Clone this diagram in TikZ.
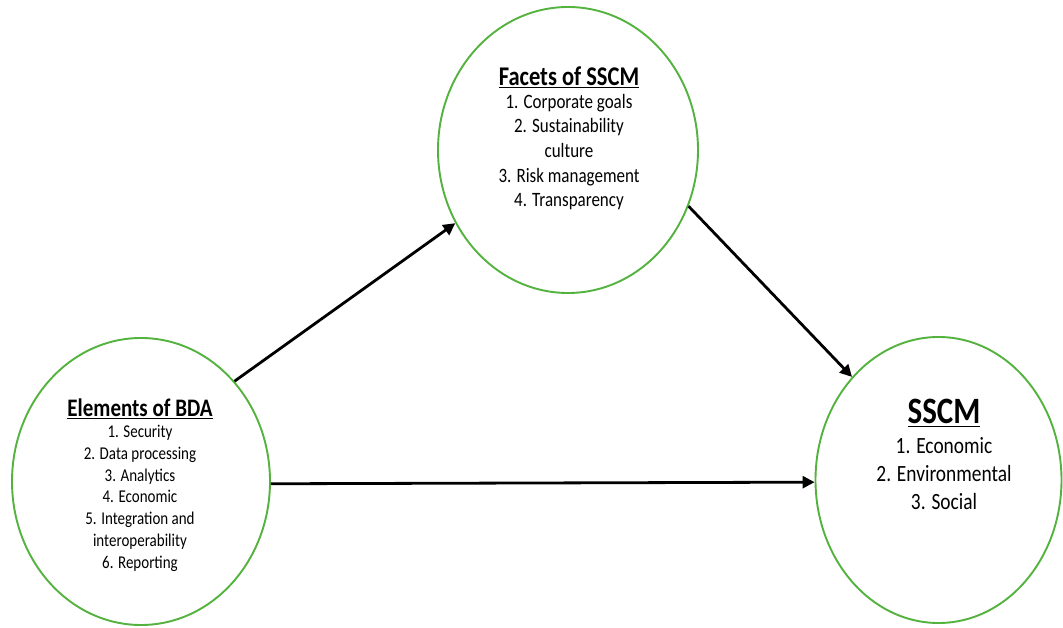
\documentclass[tikz,border=0pt]{standalone}
\usepackage{fontspec}
\usepackage{graphicx}
\setmainfont{Carlito}
\usetikzlibrary{shapes.geometric,arrows.meta}
\definecolor{ringgreen}{RGB}{84,178,62}
\tikzset{
  ring/.style={draw=ringgreen, line width=1.9pt, ellipse, inner sep=0pt, fill=white},
  conn/.style={line width=2.8pt, -{Triangle[length=12pt,width=12pt]}},
  lbl/.style={inner sep=0pt, align=center}
}
\newcommand{\vstretch}[1]{\scalebox{1}[1.2]{#1}}
\begin{document}
\begin{tikzpicture}[x=1pt,y=1pt]
\useasboundingbox[fill=white] (0,0) rectangle (1063,627);
% ellipses
\node[ring, minimum width=258pt, minimum height=287pt] (bda) at (141,145.5) {};
\node[ring, minimum width=260pt, minimum height=286pt] (fac) at (568,477) {};
\node[ring, minimum width=246pt, minimum height=286pt] (sscm) at (938.5,147) {};
% texts
\node[lbl] (bdat) at (140,218) {\vstretch{\fontsize{21}{25}\selectfont\underline{\textbf{Elements of BDA}}}};
\node[lbl] (bdal) at (140,128.5) {\vstretch{\fontsize{15}{18.1}\selectfont\begin{tabular}{@{}c@{}}1. Security\\ 2. Data processing\\ 3. Analytics\\ 4. Economic\\ 5. Integration and\\ interoperability\\ 6. Reporting\end{tabular}}};
\node[lbl] (fact) at (569,550) {\vstretch{\fontsize{22.5}{27}\selectfont\underline{\textbf{Facets of SSCM}}}};
\node[lbl] (facl) at (569,474.5) {\vstretch{\fontsize{17}{20.5}\selectfont\begin{tabular}{@{}c@{}}1. Corporate goals\\ 2. Sustainability\\ culture\\ 3. Risk management\\ 4. Transparency\end{tabular}}};
\node[lbl] (sscmt) at (944,214) {\vstretch{\fontsize{31}{36}\selectfont\underline{\textbf{SSCM}}}};
\node[lbl] (sscml) at (944,151) {\vstretch{\fontsize{19.4}{23.2}\selectfont\begin{tabular}{@{}c@{}}1. Economic\\ 2. Environmental\\ 3. Social\end{tabular}}};
% connectors
\draw[conn] (bda.47) -- (fac.213);
\draw[conn] (fac.-25) -- (sscm.130);
\draw[conn] (bda.-1.5) -- (sscm.181.4);
\end{tikzpicture}
\end{document}
